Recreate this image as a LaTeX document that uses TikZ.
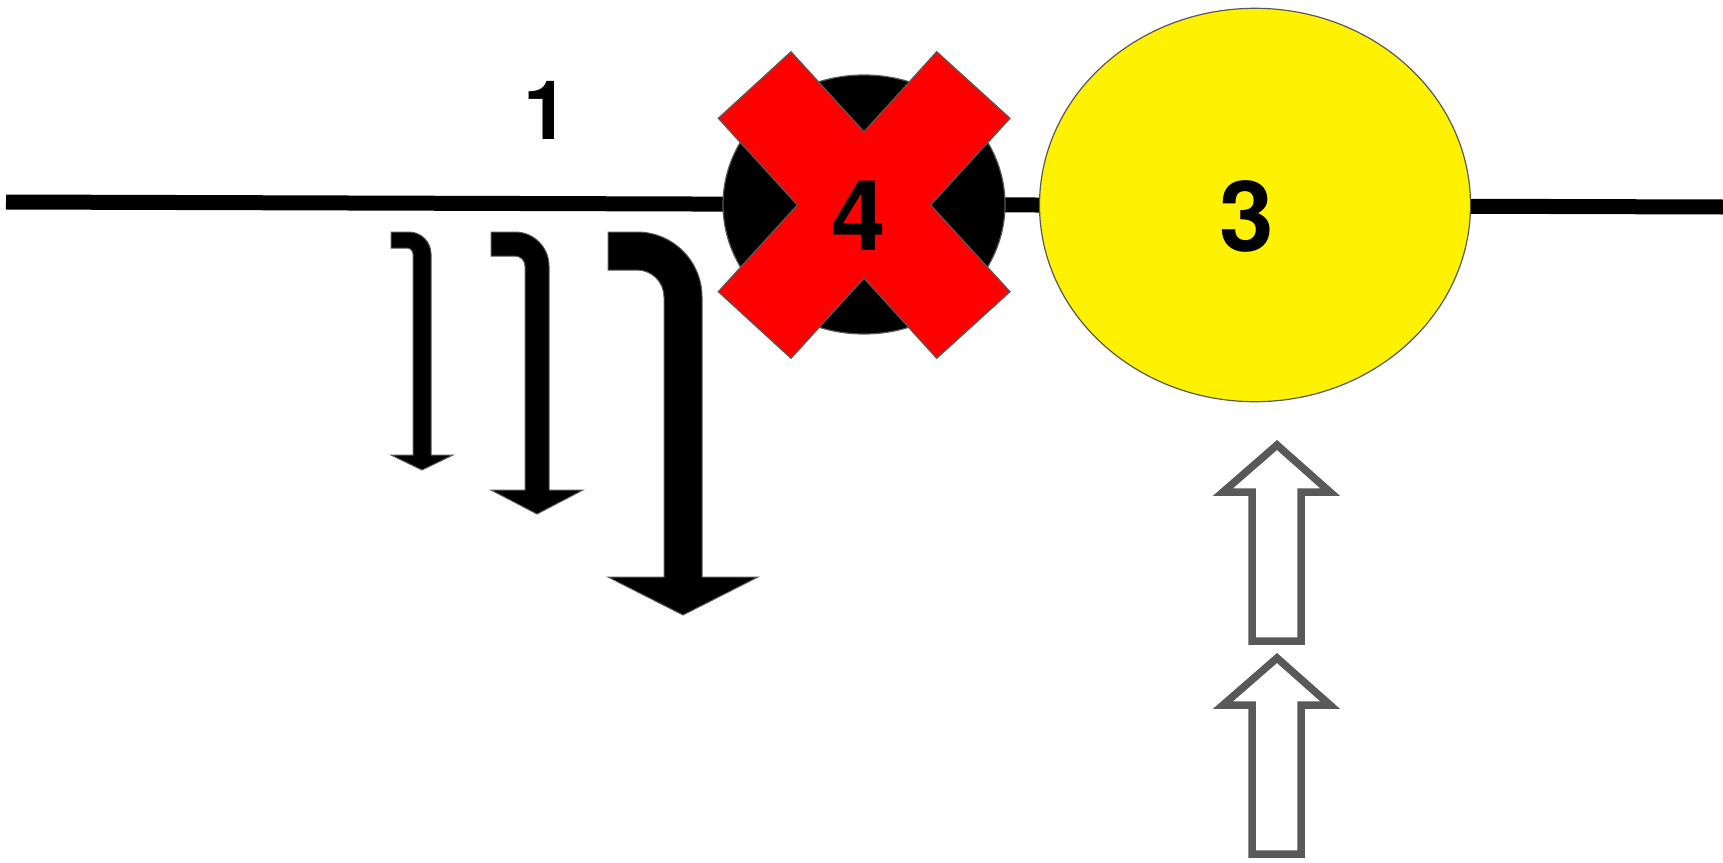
\documentclass[tikz,border=0pt]{standalone}
\usepackage{fontspec}
\setmainfont{TeX Gyre Heros}
\usetikzlibrary{shapes.geometric}
\definecolor{edgegray}{HTML}{595959}
\tikzset{
  rail/.style={line width=7.5pt,black},
  numlbl/.style={font=\bfseries\fontsize{49}{49}\selectfont,inner sep=0pt},
  disc/.style={ellipse,draw=edgegray,line width=0.6pt,inner sep=0pt},
  crossx/.style={fill=red,draw=edgegray,line width=0.6pt,line join=miter},
  bentarr/.style={fill=black,draw=edgegray,line width=0.5pt},
  hollowarr/.style={draw=edgegray,fill=white,line width=3.75pt,line join=miter},
}
\begin{document}
\begin{tikzpicture}[x=0.5pt,y=-0.5pt]
  \useasboundingbox (0,0) rectangle (1723,862);
  % track
  \coordinate (lnL) at (6,202);
  \coordinate (lnR) at (1723,207);
  \draw[rail] (lnL) -- (lnR);
  % station 4, struck out
  \node[disc,fill=black,minimum width=141pt,minimum height=129.5pt] (stn4) at (864,204.5) {};
  \draw[crossx] (791,51.7) -- (864,131.7) -- (936.7,51.7) -- (1010,118.3) -- (930.7,205)
    -- (1010,291.7) -- (936.7,358.3) -- (864,278.3) -- (791,358.3) -- (718.3,291.7)
    -- (797.3,205) -- (718.3,118.3) -- cycle;
  \node[numlbl] (lab4) at (858.5,215.7) {4};
  % station 3
  \node[disc,fill=yellow,minimum width=215.5pt,minimum height=196.7pt] (stn3) at (1255,205) {};
  \node[numlbl] (lab3) at (1247,216.5) {3};
  \node[numlbl,font=\bfseries\fontsize{41}{41}\selectfont] (lab1) at (546,110.5) {1};
  % bent arrows, growing
  \foreach \cx/\w/\t/\hw/\hb/\hh/\R/\r in {422/18/16/31/455/15/11/3,
      537/24/24/46/490/24/17/5, 683/38/38/75/577/38/32.5/13.5}{
    \filldraw[bentarr] ({\cx-\hw},232) -- ({\cx+\w/2-2*\R},232)
      arc[start angle=90,end angle=0,radius=\R pt] -- ({\cx+\w/2},\hb) -- ({\cx+\hw},\hb)
      -- (\cx,{\hb+\hh}) -- ({\cx-\hw},\hb) -- ({\cx-\w/2},\hb) -- ({\cx-\w/2},{232+\t+2*\r})
      arc[start angle=0,end angle=90,radius=\r pt] -- ({\cx-\hw},{232+\t}) -- cycle;
  }
  % hollow arrows below station 3
  \foreach \ty in {445,658}{
    \draw[hollowarr] (1277,\ty) -- (1330,{\ty+47}) -- (1301,{\ty+47}) -- (1301,{\ty+196})
      -- (1252,{\ty+196}) -- (1252,{\ty+47}) -- (1223,{\ty+47}) -- cycle;
  }
\end{tikzpicture}
\end{document}
